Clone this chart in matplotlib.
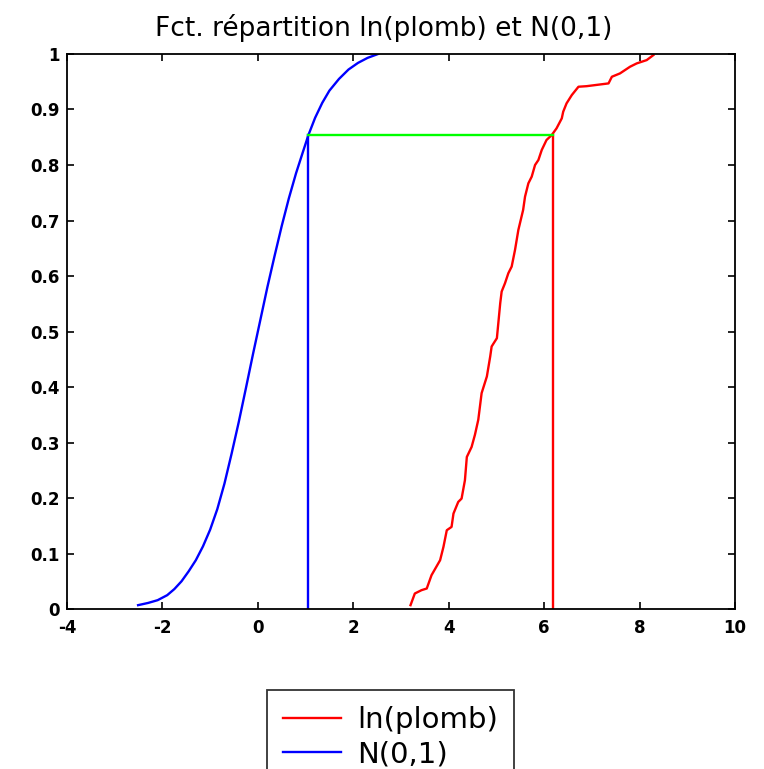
import numpy as np
import matplotlib
matplotlib.use("Agg")
import matplotlib.pyplot as plt

plt.rcParams['font.family'] = ['DejaVu Sans']
plt.rcParams['axes.unicode_minus'] = False

# N(0,1) - fonction de repartition
norm_x = [-2.51, -2.30, -2.10, -1.90, -1.75, -1.60, -1.45, -1.30, -1.15, -1.00,
          -0.85, -0.70, -0.55, -0.40, -0.25, -0.10, 0.05, 0.20, 0.35, 0.50,
          0.65, 0.80, 0.95, 1.06, 1.20, 1.35, 1.50, 1.70, 1.90, 2.10, 2.30, 2.52]
norm_y = [0.007, 0.011, 0.016, 0.025, 0.036, 0.050, 0.068, 0.088, 0.113, 0.143,
          0.180, 0.226, 0.280, 0.337, 0.398, 0.460, 0.520, 0.580, 0.636, 0.690,
          0.740, 0.785, 0.825, 0.854, 0.885, 0.912, 0.934, 0.955, 0.972, 0.984,
          0.993, 1.000]

# ln(plomb) - repartition empirique
plomb_x = [3.20, 3.29, 3.43, 3.54, 3.64, 3.82, 3.89, 3.96, 4.06, 4.10, 4.20, 4.27,
           4.34, 4.38, 4.48, 4.55, 4.62, 4.69, 4.80, 4.87, 4.90, 5.01, 5.04, 5.08,
           5.11, 5.18, 5.25, 5.32, 5.39, 5.46, 5.56, 5.60, 5.67, 5.74, 5.81, 5.88,
           5.95, 6.05, 6.16, 6.26, 6.37, 6.40, 6.47, 6.58, 6.72, 6.89, 7.35, 7.42,
           7.59, 7.80, 7.94, 8.15, 8.29]
plomb_y = [0.007, 0.028, 0.034, 0.037, 0.061, 0.088, 0.112, 0.142, 0.148, 0.172,
           0.193, 0.199, 0.232, 0.274, 0.292, 0.314, 0.341, 0.389, 0.419, 0.455,
           0.473, 0.488, 0.515, 0.551, 0.572, 0.587, 0.605, 0.617, 0.647, 0.683,
           0.719, 0.743, 0.767, 0.779, 0.800, 0.809, 0.827, 0.845, 0.854, 0.866,
           0.884, 0.896, 0.911, 0.926, 0.941, 0.942, 0.947, 0.959, 0.965, 0.977,
           0.983, 0.989, 0.998]

# niveau commun et quantiles correspondants
p_level = 0.854
q_norm = 1.06
q_plomb = 6.18

fig = plt.figure(figsize=(7.64, 7.69), dpi=100)
ax = fig.add_axes([0.0877, 0.208, 0.8743, 0.7218])

ax.plot(plomb_x, plomb_y, color='#ff0000', lw=1.7, label='ln(plomb)')
ax.plot(norm_x, norm_y, color='#0000ff', lw=1.7, label='N(0,1)')
ax.plot([q_norm, q_norm], [0, p_level], color='#0000ff', lw=1.7)
ax.plot([q_plomb, q_plomb], [0, p_level], color='#ff0000', lw=1.7)
ax.plot([q_norm, q_plomb], [p_level, p_level], color='#00ff00', lw=1.7)

ax.set_xlim(-4, 10)
ax.set_ylim(0, 1)
ax.set_xticks(np.arange(-4, 11, 2))
ax.set_yticks(np.arange(0, 1.01, 0.1))
ax.set_yticklabels(['0', '0.1', '0.2', '0.3', '0.4', '0.5', '0.6', '0.7', '0.8', '0.9', '1'])
ax.tick_params(direction='in', length=5, width=1.2, top=True, right=True,
               labelsize=12, pad=5)
ax.tick_params(axis='x', pad=7)
for lab in ax.get_xticklabels() + ax.get_yticklabels():
    lab.set_fontweight('bold')
for s in ax.spines.values():
    s.set_linewidth(1.3)

# titre un peu decale a gauche comme sur l'original
fig.text(0.5026, 0.953, 'Fct. répartition ln(plomb) et N(0,1)', fontsize=19,
         ha='center', va='baseline')

leg = fig.legend(loc='upper center', bbox_to_anchor=(0.5111, 0.103), fontsize=21,
                 frameon=True, fancybox=False, edgecolor='black', handlelength=2.0,
                 handletextpad=0.55, borderpad=0.55, labelspacing=0.22,
                 borderaxespad=0)
leg.get_frame().set_linewidth(1.3)

fig.savefig('out.png', dpi=100)
